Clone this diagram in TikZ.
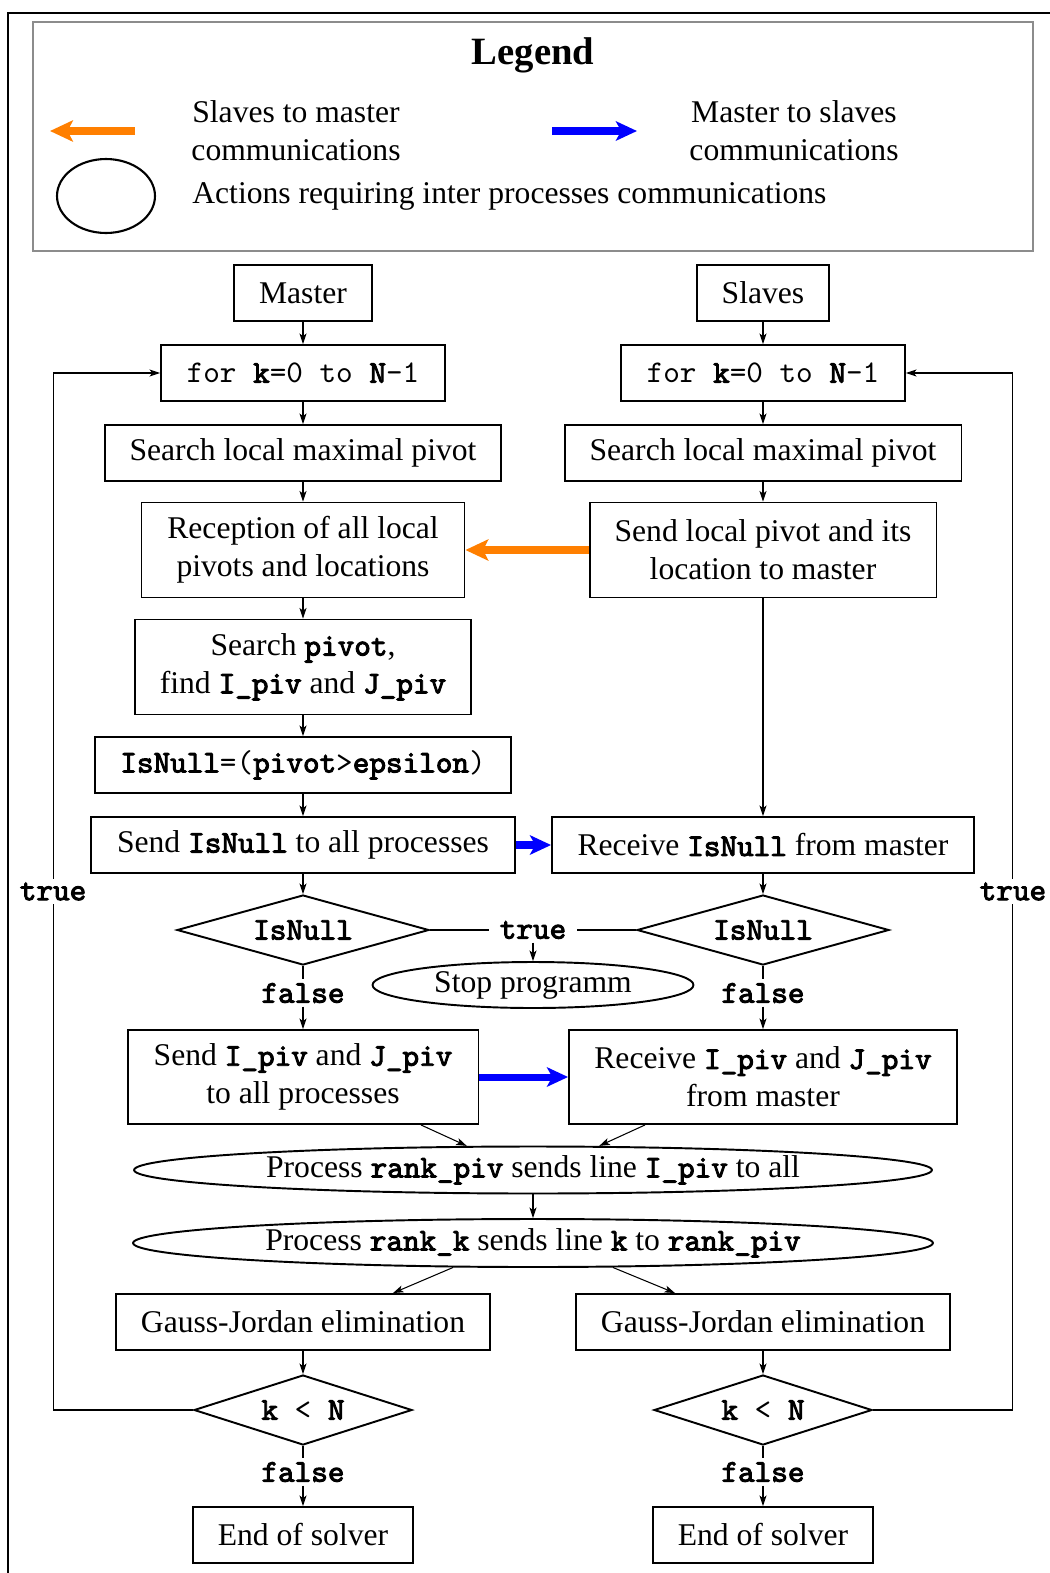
\documentclass[tikz,border=0pt]{standalone}
\usepackage{fontspec}
\setmainfont{Liberation Serif}
\setmonofont{lmmono10-regular.otf}[BoldFont=lmmono10-regular.otf,BoldFeatures={FakeBold=3}]
\usepackage{tikz}
\usetikzlibrary{arrows.meta,calc,shapes.geometric}

\definecolor{slavecol}{RGB}{255,127,0}
\definecolor{mastercol}{RGB}{0,0,255}
\newcommand{\tb}[1]{\texttt{\textbf{#1}}}

\begin{document}
\begin{tikzpicture}[x=0.02cm,y=-0.02cm,
	every node/.style={font=\fontsize{18}{21.5}\selectfont},
	box/.style={draw,line width=1.1pt,minimum height=1.12cm,inner sep=0pt,align=center},
	test/.style={draw,diamond,aspect=3.4,line width=1.1pt,inner sep=0pt,minimum height=1.4cm},
	action/.style={draw,ellipse,line width=1.1pt,inner sep=0pt},
	flag/.style={font=\fontsize{18}{21.5}\selectfont\ttfamily\bfseries,inner sep=2pt},
	link/.style={line width=0.6pt},
	>={Stealth[length=6pt,width=4pt,inset=1.5pt]},
	tomaster/.style={slavecol,line width=4pt,-{Stealth[length=13pt,width=12pt,inset=3pt]}},
	toslaves/.style={mastercol,line width=4pt,-{Stealth[length=12pt,width=11pt,inset=3pt]}}]
	\useasboundingbox (0,0) rectangle (1050,1573);
	\draw [line width=1.1pt] (8,13) rectangle (1080,1600);
	% legend
	\draw [black!45,line width=1.4pt] (33,22) rectangle (1033,251);
	\node [font=\fontsize{22}{26}\selectfont\bfseries] (legend) at (533,55) {Legend};
	\coordinate (s2m-a) at (135,131);
	\coordinate (s2m-b) at (50,131);
	\draw [tomaster] (s2m-a) -- (s2m-b);
	\node [align=center] (s2m) at (296,131) {Slaves to master\\communications};
	\coordinate (m2s-a) at (552,131);
	\coordinate (m2s-b) at (637,131);
	\draw [toslaves] (m2s-a) -- (m2s-b);
	\node [align=center] (m2s) at (794,131) {Master to slaves\\communications};
	\node [action,line width=1.2pt,minimum width=1.96cm,minimum height=1.48cm] (legend-ell) at (106,196) {};
	\node [anchor=west,inner sep=0pt] (actions) at (192,196) {Actions requiring inter processes communications};
	% both columns
	\node [box,minimum width=2.76cm] (master) at (303,293) {Master};
	\node [box,minimum width=2.64cm] (slaves) at (763,293) {Slaves};
	\foreach \s/\x in {m/303,s/763} {
		\node [box,minimum width=5.68cm] (loop-\s) at (\x,373) {\texttt{for \textbf{k}=0 to \textbf{N}-1}};
		\node [box,minimum width=7.94cm] (local-\s) at (\x,453) {Search local maximal pivot};
		\node [test,minimum width=5.04cm] (null-\s) at (\x,930) {\tb{IsNull}};
		\node [flag] (nofail-\s) at (\x,993) {false};
		\node [box,minimum width=7.48cm] (gauss-\s) at (\x,1322) {Gauss-Jordan elimination};
		\node [test,minimum width=4.36cm] (cond-\s) at (\x,1410) {\texttt{\textbf{k} < \textbf{N}}};
		\node [flag] (done-\s) at (\x,1472) {false};
		\node [box,minimum width=4.4cm] (end-\s) at (\x,1535) {End of solver};
	}
	\node [box,minimum width=6.46cm,minimum height=1.9cm] (gather) at (303,550) {Reception of all local\\pivots and locations};
	\node [box,minimum width=6.94cm,minimum height=1.9cm] (report) at (763,550) {Send local pivot and its\\location to master};
	\node [box,minimum width=6.72cm,minimum height=1.9cm] (pivot) at (303,667) {Search \tb{pivot},\\find \tb{I\_piv} and \tb{J\_piv}};
	\node [box,minimum width=8.34cm] (isnull) at (303,765) {\tb{IsNull}\texttt{=(}\tb{pivot}\texttt{>}\tb{epsilon}\texttt{)}};
	\node [box,minimum width=8.48cm] (bcast-null) at (303,845) {Send \tb{IsNull} to all processes};
	\node [box,minimum width=8.44cm] (recv-null) at (763,845) {Receive \tb{IsNull} from master};
	\node [flag,inner xsep=6pt] (stop-if) at (533,930) {true};
	\node [action,minimum width=6.42cm,minimum height=0.92cm] (stop) at (533,985) {Stop programm};
	\node [box,minimum width=7.02cm,minimum height=1.88cm] (bcast-ij) at (303,1077) {Send \tb{I\_piv} and \tb{J\_piv}\\to all processes};
	\node [box,minimum width=7.76cm,minimum height=1.88cm] (recv-ij) at (763,1077) {Receive \tb{I\_piv} and \tb{J\_piv}\\from master};
	\node [action,minimum width=15.96cm,minimum height=0.94cm] (swap-i) at (533,1170) {Process \tb{rank\_piv} sends line \tb{I\_piv} to all};
	\node [action,minimum width=16cm,minimum height=0.96cm] (swap-k) at (533,1243) {Process \tb{rank\_k} sends line \tb{k} to \tb{rank\_piv}};
	% connectors
	\draw [link,->] (master) -- (loop-m);
	\draw [link,->] (slaves) -- (loop-s);
	\foreach \s in {m,s} {
		\draw [link,->] (loop-\s) -- (local-\s);
		\draw [link] (null-\s) -- (nofail-\s);
		\draw [link,->] (gauss-\s) -- (cond-\s);
		\draw [link] (cond-\s) -- (done-\s);
		\draw [link,->] (done-\s) -- (end-\s);
	}
	\draw [link,->] (local-m) -- (gather);
	\draw [link,->] (local-s) -- (report);
	\draw [tomaster] (report) -- (gather);
	\draw [link,->] (gather) -- (pivot);
	\draw [link,->] (pivot) -- (isnull);
	\draw [link,->] (isnull) -- (bcast-null);
	\draw [link,->] (report) -- (recv-null);
	\draw [toslaves] (bcast-null) -- (recv-null);
	\draw [link,->] (bcast-null) -- (null-m);
	\draw [link,->] (recv-null) -- (null-s);
	\draw [link] (null-m) -- (stop-if) -- (null-s);
	\draw [link,->] (stop-if) -- (stop);
	\draw [link,->] (nofail-m) -- (bcast-ij);
	\draw [link,->] (nofail-s) -- (recv-ij);
	\draw [toslaves] (bcast-ij) -- (recv-ij);
	\draw [link,->] ($(bcast-ij.south)+(118,0)$) -- (swap-i.160);
	\draw [link,->] ($(recv-ij.south)+(-118,0)$) -- (swap-i.20);
	\draw [link,->] (swap-i) -- (swap-k);
	\draw [link,->] (swap-k.197) -- ($(gauss-m.north)+(90,0)$);
	\draw [link,->] (swap-k.343) -- ($(gauss-s.north)+(-88,0)$);
	\draw [link,->] (cond-m.west) -- ++(-140,0) |- node [flag,pos=0.25,fill=white] (again-m) {true} (loop-m.west);
	\draw [link,->] (cond-s.east) -- ++(140,0) |- node [flag,pos=0.25,fill=white] (again-s) {true} (loop-s.east);
\end{tikzpicture}
\end{document}
